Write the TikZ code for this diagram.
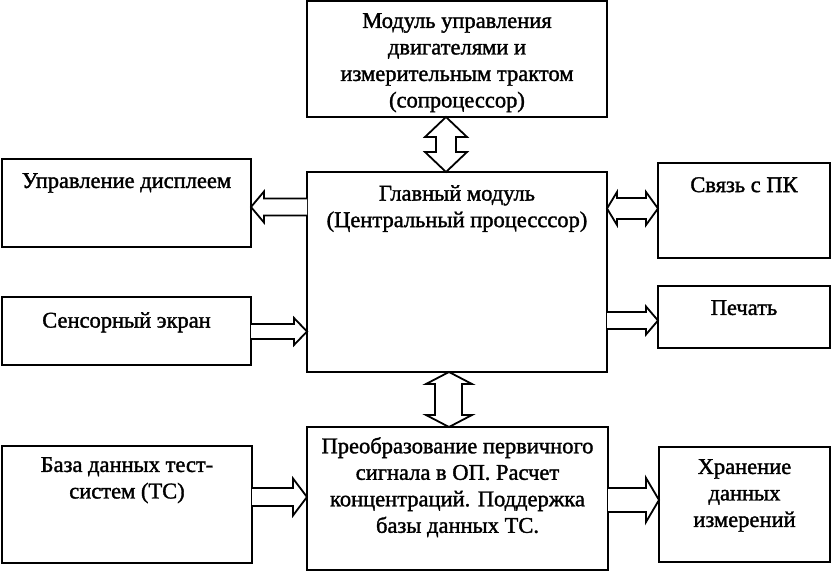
\documentclass[tikz,border=0pt]{standalone}
\usepackage{fontspec}
\setmainfont{Liberation Serif}[FakeBold=1.5]
\usetikzlibrary{calc}
\tikzset{
  box/.style={draw, line width=2.2pt, inner sep=0pt, outer sep=0pt, anchor=north west},
  txt/.style={font=\fontsize{22.5}{26.5}\selectfont, align=center, inner sep=0pt, anchor=north},
  hol/.style={draw, line width=1.8pt, line join=miter, fill=white}
}
\begin{document}
\begin{tikzpicture}[x=1pt,y=-1pt]
\useasboundingbox (0,0) rectangle (839,572);
% boxes
\node[box, minimum width=300pt, minimum height=116pt] (top) at (307,1) {};
\node[box, minimum width=300pt, minimum height=200pt] (main) at (307,172) {};
\node[box, minimum width=249pt, minimum height=88pt] (disp) at (2,159) {};
\node[box, minimum width=249pt, minimum height=68pt] (sens) at (2,297) {};
\node[box, minimum width=172pt, minimum height=95pt] (pk) at (658,163) {};
\node[box, minimum width=172pt, minimum height=62pt] (print) at (658,286) {};
\node[box, minimum width=250pt, minimum height=117pt] (db) at (2,446) {};
\node[box, minimum width=301pt, minimum height=143pt] (conv) at (307,427) {};
\node[box, minimum width=171pt, minimum height=115pt] (store) at (659,447) {};
% texts
\node[txt] (topT) at ($(top.north)+(0,12)$) {Модуль управления\\двигателями и\\измерительным трактом\\(сопроцессор)};
\node[txt] (mainT) at ($(main.north)+(0,13)$) {Главный модуль\\(Центральный процесссор)};
\node[txt] (dispT) at ($(disp.north)+(0,14)$) {Управление дисплеем};
\node[txt] (sensT) at ($(sens.north)+(0,15)$) {Сенсорный экран};
\node[txt] (pkT) at ($(pk.north)+(0,14)$) {Связь с ПК};
\node[txt] (printT) at ($(print.north)+(0,14)$) {Печать};
\node[txt] (dbT) at ($(db.north)+(0,11)$) {База данных тест-\\систем (ТС)};
\node[txt] (convT) at ($(conv.north)+(0,10)$) {Преобразование первичного\\сигнала в ОП. Расчет\\концентраций. Поддержка\\базы данных ТС.};
\node[txt] (storeT) at ($(store.north)+(0,12)$) {Хранение\\данных\\измерений};
% vertical double arrow top <-> main
\coordinate (v1a) at (top.south -| 446,0);
\coordinate (v1b) at (main.north -| 446,0);
\draw[hol] (v1a) -- ($(v1a)+(21,20)$) -- ($(v1a)+(10,20)$) -- ($(v1b)+(10,-20)$) -- ($(v1b)+(21,-20)$) -- (v1b)
  -- ($(v1b)+(-21,-20)$) -- ($(v1b)+(-10,-20)$) -- ($(v1a)+(-10,20)$) -- ($(v1a)+(-21,20)$) -- cycle;
% vertical double arrow main <-> conv
\coordinate (v2a) at (main.south -| 449,0);
\coordinate (v2b) at (conv.north -| 449,0);
\draw[hol] (v2a) -- ($(v2a)+(23,12)$) -- ($(v2a)+(13,12)$) -- ($(v2b)+(13,-12)$) -- ($(v2b)+(23,-12)$) -- (v2b)
  -- ($(v2b)+(-23,-12)$) -- ($(v2b)+(-14,-12)$) -- ($(v2a)+(-14,12)$) -- ($(v2a)+(-23,12)$) -- cycle;
% main -> disp
\coordinate (h1s) at (main.west |- 0,207);
\coordinate (h1t) at (disp.east |- 0,207);
\draw[hol] ($(h1s)+(0,-8.5)$) -- ($(h1t)+(13,-8.5)$) -- ($(h1t)+(13,-15.5)$) -- (h1t)
  -- ($(h1t)+(13,15.5)$) -- ($(h1t)+(13,8.5)$) -- ($(h1s)+(0,8.5)$);
% sens -> main
\coordinate (h2s) at (sens.east |- 0,331.5);
\coordinate (h2t) at (main.west |- 0,331.5);
\draw[hol] ($(h2s)+(0,-7.5)$) -- ($(h2t)+(-13,-7.5)$) -- ($(h2t)+(-13,-13.5)$) -- (h2t)
  -- ($(h2t)+(-13,13.5)$) -- ($(h2t)+(-13,7.5)$) -- ($(h2s)+(0,7.5)$);
% main <-> pk
\coordinate (h3a) at (main.east |- 0,208.5);
\coordinate (h3b) at (pk.west |- 0,208.5);
\draw[hol] (h3a) -- ($(h3a)+(10,-16.5)$) -- ($(h3a)+(10,-10.5)$) -- ($(h3b)+(-12,-10.5)$) -- ($(h3b)+(-12,-16.5)$) -- (h3b)
  -- ($(h3b)+(-12,16.5)$) -- ($(h3b)+(-12,10.5)$) -- ($(h3a)+(10,10.5)$) -- ($(h3a)+(10,16.5)$) -- cycle;
% main -> print
\coordinate (h4s) at (main.east |- 0,320.5);
\coordinate (h4t) at (print.west |- 0,320.5);
\draw[hol] ($(h4s)+(0,-8.5)$) -- ($(h4t)+(-12,-8.5)$) -- ($(h4t)+(-12,-14)$) -- (h4t)
  -- ($(h4t)+(-12,14)$) -- ($(h4t)+(-12,8.5)$) -- ($(h4s)+(0,8.5)$);
% db -> conv
\coordinate (h5s) at (db.east |- 0,497);
\coordinate (h5t) at (conv.west |- 0,497);
\draw[hol] ($(h5s)+(0,-9)$) -- ($(h5t)+(-14,-9)$) -- ($(h5t)+(-14,-18.5)$) -- (h5t)
  -- ($(h5t)+(-14,18.5)$) -- ($(h5t)+(-14,9)$) -- ($(h5s)+(0,9)$);
% conv -> store
\coordinate (h6s) at (conv.east |- 0,500);
\coordinate (h6t) at (store.west |- 0,500);
\draw[hol] ($(h6s)+(0,-12)$) -- ($(h6t)+(-13,-12)$) -- ($(h6t)+(-13,-22)$) -- (h6t)
  -- ($(h6t)+(-13,22)$) -- ($(h6t)+(-13,12)$) -- ($(h6s)+(0,12)$);
\end{tikzpicture}
\end{document}
